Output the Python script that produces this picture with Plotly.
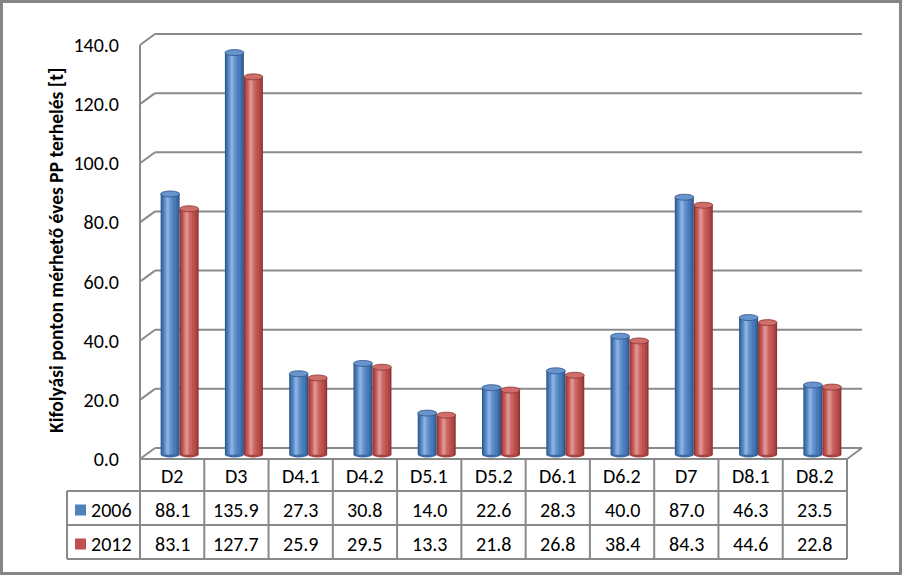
import plotly.graph_objects as go

# ---------------- data ----------------
categories = ["D2", "D3", "D4.1", "D4.2", "D5.1", "D5.2", "D6.1", "D6.2", "D7", "D8.1", "D8.2"]
series_names = ["2006", "2012"]
values_2006 = [88.1, 135.9, 27.3, 30.8, 14.0, 22.6, 28.3, 40.0, 87.0, 46.3, 23.5]
values_2012 = [83.1, 127.7, 25.9, 29.5, 13.3, 21.8, 26.8, 38.4, 84.3, 44.6, 22.8]
y_ticks = [0, 20, 40, 60, 80, 100, 120, 140]
y_title = "Kifolyási ponton mérhető éves PP terhelés [t]"

# ---------------- styling / geometry ----------------
FONT = "Calibri, Carlito, Lato, 'Open Sans', sans-serif"
FS = 20
W, H = 902, 575
X0, Y0 = 140, 459          # front origin of the chart (px)
XF = 847                    # front right edge (px)
YTOP = 45                   # front position of 140 (px)
YMAX = 140
n = len(categories)
UX = (XF - X0) / n          # px per category
UY = (Y0 - YTOP) / YMAX     # px per unit
DX, DY = 15, 11             # 3D depth offset (px)
PL, PR, PT, PB = 128, 874, 18, 468   # plot area (px)

xr = [-0.5 - (X0 - PL) / UX, -0.5 + (PR - X0) / UX]
yr = [-(PB - Y0) / UY, (Y0 - PT) / UY]
ddx, ddy = DX / UX, DY / UY

BASE_PX = 454.5             # bar bottom (mid depth)
shift = (Y0 - BASE_PX) / UY
yr2 = [yr[0] - shift, yr[1] - shift]

BW = 19                     # bar width px
GX = 7.5                    # group centre offset px

GRID = "#8a8a8a"
palettes = [
    ["#2f5688", "#3d6aa3", "#4a7bb9", "#5b8cc8", "#74a0d6", "#8db2df"],
    ["#8a3533", "#a84441", "#bd4f4c", "#c9625f", "#d47d7a", "#dd9693"],
]
cap_fill = ["#6893cc", "#cf6d6a"]
legend_cols = ["#4f81bd", "#c0504d"]
layers = [(0.0, 1.0), (0.05, 0.93), (0.11, 0.82), (0.18, 0.66), (0.25, 0.52), (0.31, 0.43)]


def xp(px):
    return (px - PL) / (PR - PL)


def yp(py):
    return (PB - py) / (PB - PT)


fig = go.Figure()
series_values = [values_2006, values_2012]
xs = list(range(n))
shapes = []

for s, (name, vals) in enumerate(zip(series_names, series_values)):
    left_px = GX - BW if s == 0 else GX
    for li, (lf, rf) in enumerate(layers):
        fig.add_trace(go.Bar(
            x=xs, y=vals, name=name, yaxis="y2",
            offset=(left_px + lf * BW) / UX,
            width=(rf - lf) * BW / UX,
            marker=dict(color=palettes[s][li], line=dict(width=0)),
            showlegend=False, hoverinfo="skip" if li else "y",
        ))
    cx = (left_px + BW / 2) / UX
    for i, v in enumerate(vals):
        # rounded bottom
        shapes.append(dict(type="circle", xref="x", yref="y2", layer="below",
                           xsizemode="pixel", ysizemode="pixel",
                           xanchor=i + cx, yanchor=0, x0=-BW / 2, x1=BW / 2, y0=-3, y1=3,
                           fillcolor=palettes[s][1], line=dict(width=0)))
        # top cap
        shapes.append(dict(type="circle", xref="x", yref="y2", layer="above",
                           xsizemode="pixel", ysizemode="pixel",
                           xanchor=i + cx, yanchor=v, x0=-BW / 2, x1=BW / 2, y0=-3, y1=3,
                           fillcolor=cap_fill[s], line=dict(width=0.8, color=palettes[s][0])))

# 3D frame: back-wall gridlines, connectors, front axis
for v in y_ticks:
    shapes.append(dict(type="line", xref="x", yref="y", layer="below",
                       x0=-0.5 + ddx, x1=n - 0.5 + ddx, y0=v + ddy, y1=v + ddy,
                       line=dict(color=GRID, width=2)))
    shapes.append(dict(type="line", xref="x", yref="y", layer="below",
                       x0=-0.5, x1=-0.5 + ddx, y0=v, y1=v + ddy,
                       line=dict(color=GRID, width=2)))
shapes.append(dict(type="line", xref="x", yref="y", layer="below",
                   x0=-0.5, x1=-0.5, y0=0, y1=YMAX, line=dict(color=GRID, width=2)))
shapes.append(dict(type="line", xref="x", yref="y", layer="below",
                   x0=n - 0.5, x1=n - 0.5 + ddx, y0=0, y1=ddy, line=dict(color=GRID, width=2)))

# data table lines
ROW_Y = [459, 491, 525, 559]
TBL_L = 67
shapes.append(dict(type="line", xref="paper", yref="paper",
                   x0=xp(X0), x1=xp(XF), y0=yp(ROW_Y[0]), y1=yp(ROW_Y[0]),
                   line=dict(color=GRID, width=2)))
for ry in ROW_Y[1:]:
    shapes.append(dict(type="line", xref="paper", yref="paper",
                       x0=xp(TBL_L), x1=xp(XF), y0=yp(ry), y1=yp(ry),
                       line=dict(color=GRID, width=2)))
for k in range(n + 1):
    px = X0 + k * UX
    shapes.append(dict(type="line", xref="paper", yref="paper",
                       x0=xp(px), x1=xp(px), y0=yp(ROW_Y[0]), y1=yp(ROW_Y[3]),
                       line=dict(color=GRID, width=2)))
shapes.append(dict(type="line", xref="paper", yref="paper",
                   x0=xp(TBL_L), x1=xp(TBL_L), y0=yp(ROW_Y[1]), y1=yp(ROW_Y[3]),
                   line=dict(color=GRID, width=2)))

# legend keys in the table
annotations = []
for s, name in enumerate(series_names):
    cy = (ROW_Y[s + 1] + ROW_Y[s + 2]) / 2
    shapes.append(dict(type="rect", xref="paper", yref="paper",
                       x0=xp(75), x1=xp(86), y0=yp(cy + 7.5), y1=yp(cy - 3.5),
                       fillcolor=legend_cols[s], line=dict(width=0)))
    annotations.append(dict(text=name, xref="paper", yref="paper", x=xp(89), y=yp(cy + 2),
                            xanchor="left", yanchor="middle", showarrow=False,
                            font=dict(family=FONT, size=FS, color="black")))
    for i, v in enumerate(series_values[s]):
        annotations.append(dict(text=f"{v:.1f}", xref="x", yref="paper", x=i, y=yp(cy + 2),
                                xanchor="center", yanchor="middle", showarrow=False,
                                font=dict(family=FONT, size=FS, color="black")))

for i, c in enumerate(categories):
    annotations.append(dict(text=c, xref="x", yref="paper", x=i, y=yp(476),
                            xanchor="center", yanchor="middle", showarrow=False,
                            font=dict(family=FONT, size=FS, color="black")))

annotations.append(dict(text=f"<b>{y_title}</b>", xref="paper", yref="paper",
                        x=xp(56), y=yp(251), textangle=-90, xanchor="center", yanchor="middle",
                        showarrow=False, font=dict(family=FONT, size=19.5, color="black")))

# outer border
shapes.append(dict(type="rect", xref="paper", yref="paper",
                   x0=xp(1.5), x1=xp(900.5), y0=yp(1.5), y1=yp(573.5),
                   line=dict(color="#868686", width=3)))

fig.update_layout(
    width=W, height=H,
    margin=dict(l=PL, r=W - PR, t=PT, b=H - PB, pad=0),
    paper_bgcolor="white", plot_bgcolor="rgba(0,0,0,0)",
    barmode="overlay", showlegend=False, hovermode="closest",
    xaxis=dict(range=xr, showgrid=False, zeroline=False, showline=False,
               showticklabels=False, ticks=""),
    yaxis=dict(range=yr, tickvals=y_ticks, ticktext=[f"{v:.1f}" for v in y_ticks],
               showgrid=False, zeroline=False, showline=False, ticks="",
               ticklabelstandoff=8,
               tickfont=dict(family=FONT, size=FS, color="black")),
    yaxis2=dict(range=yr2, overlaying="y", visible=False),
    shapes=shapes, annotations=annotations,
)

fig.write_html("out.html")
